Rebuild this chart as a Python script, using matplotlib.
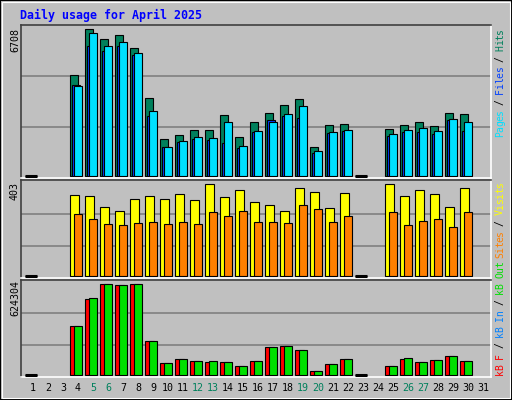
import matplotlib
matplotlib.use("Agg")
import matplotlib.pyplot as plt
import numpy as np
from matplotlib.patches import Rectangle

nan = np.nan
days = list(range(1, 32))
hits = [0, nan, nan, 4604, 6708, 6251, 6434, 5839, 3552, 1677, 1860, 2088, 2088, 2775, 1768, 2455,
        2866, 3232, 3506, 1311, 2317, 2363, 0, nan, 2134, 2317, 2455, 2271, 2866, 2820, nan]
files = [0, nan, nan, 4145, 5930, 5702, 5930, 5519, 2729, 1311, 1540, 1677, 1632, 1494, 1265, 1997,
         2546, 2729, 2638, 1037, 1951, 2043, 0, nan, 1814, 1997, 1997, 1906, 2546, 2043, nan]
pages = [0, nan, nan, 4100, 6525, 5930, 6113, 5610, 2957, 1311, 1585, 1768, 1723, 2455, 1357, 2043,
         2455, 2820, 3186, 1128, 1997, 2088, 0, nan, 1906, 2088, 2180, 2043, 2592, 2455, nan]
visits = [0, nan, nan, 355, 350, 302, 285, 337, 350, 337, 359, 333, 403, 346, 377, 324,
          311, 285, 385, 368, 298, 364, 0, nan, 403, 350, 377, 359, 302, 385, nan]
sites = [0, nan, nan, 272, 250, 228, 223, 232, 237, 228, 237, 228, 280, 263, 285, 237,
         237, 232, 311, 293, 237, 263, 0, nan, 280, 223, 241, 250, 215, 280, nan]
kb_f = [0, nan, nan, 336164, 521000, 624304, 617440, 624304, 233250, 82326, 109770, 96047, 89186,
        89186, 61742, 96047, 192094, 198955, 171512, 27442, 75465, 109770, 0, nan, 61742, 109770,
        89186, 102908, 130352, 96047, nan]
kb_in = [0, nan, nan, 0, 0, 0, 0, 0, 0, 0, 0, 0, 0, 0, 0, 0, 0, 0, 0, 0, 0, 0, 0, nan,
         0, 0, 0, 0, 0, 0, nan]
kb_out = [0, nan, nan, 336164, 528200, 624304, 617440, 624304, 233250, 82326, 109770, 96047, 96047,
          89186, 61742, 96047, 192094, 198955, 171512, 27442, 75465, 109770, 0, nan, 61742, 116631,
          89186, 102908, 130352, 96047, nan]
weekend = [5, 6, 12, 13, 19, 20, 26, 27]
max_labels = ["6708", "403", "624304"]
maxv = [6708, 403, 624304]

W, H = 512, 400
fig = plt.figure(figsize=(W/100, H/100), dpi=100)
fig.patch.set_facecolor("#C0C0C0")
fig.patches.append(Rectangle((0, 0), 1, 1, transform=fig.transFigure, fill=False,
                             edgecolor="black", lw=1.5))
fig.patches.append(Rectangle((2/W, 2/H), 1-4/W, 1-4/H, transform=fig.transFigure, fill=False,
                             edgecolor="white", lw=0.8))

mono = "DejaVu Sans Mono"
GREEN = "#00805C"; BLUE = "#0040FF"; CYAN = "#00E0FF"
YEL = "#FFFF00"; ORA = "#FF8000"; RED = "#FF0000"; LGR = "#00E000"; KBIN = "#0080FF"

x0, x1 = 21, 491
panels = [(25, 178, 176, 29), (180, 278, 276.3, 184.3), (280, 377, 375.3, 284.3)]
px = 1/15.0
axes = []
for i, (T, B, Z, M) in enumerate(panels):
    ax = fig.add_axes([x0/W, 1-B/H, (x1-x0)/W, (B-T)/H])
    ax.set_facecolor("#C0C0C0")
    mv = maxv[i]
    scale = mv/(Z-M)
    ax.set_ylim(-(B-Z)*scale, (Z-T)*scale)
    ax.set_xlim(0, (x1-x0)/15)
    for f in (0.33, 0.68):
        ax.axhline(f*mv, color="#808080", lw=1.2, zorder=0)
    ax.set_yticks([]); ax.set_xticks([])
    for s in ("top", "left"):
        ax.spines[s].set_color("#404040")
    for s in ("bottom", "right"):
        ax.spines[s].set_color("white")
    for s in ax.spines.values():
        s.set_linewidth(1.2)
    axes.append(ax)

d = np.array(days)
base = d - 1 + 4*px
kw = dict(align="edge", edgecolor="black", linewidth=0.8)
axes[0].bar(base, hits, width=7.5*px, color=GREEN, **kw)
axes[0].bar(base+2*px, files, width=8*px, color=BLUE, **kw)
axes[0].bar(base+4*px, pages, width=8*px, color=CYAN, **kw)
axes[1].bar(base, visits, width=8.5*px, color=YEL, **kw)
axes[1].bar(base+4*px, sites, width=8*px, color=ORA, **kw)
axes[2].bar(base, kb_f, width=8.5*px, color=RED, **kw)
axes[2].bar(base+2*px, kb_in, width=8*px, color=KBIN, **kw)
axes[2].bar(base+4*px, kb_out, width=8*px, color=LGR, **kw)

# zero-value days drawn as thick black dashes
for ax, series in zip(axes, [hits, visits, kb_out]):
    arr = np.array(series, dtype=float)
    zd = base[arr == 0]
    if len(zd):
        ax.hlines(np.zeros(len(zd)), zd, zd + 12*px, color="black", lw=2.2, zorder=5)

# day labels
for dd in days:
    xpix = 25 + (dd-1)*15 + 8
    fig.text(xpix/W, 1-388/H, str(dd), ha="center", va="center", family=mono, fontsize=7.2,
             color=GREEN if dd in weekend else "black")

# title
fig.text(20/W, 1-15/H, "Daily usage for April 2025", ha="left", va="center", family=mono,
         fontweight="bold", fontsize=8.4, color="#0000FF")

# left max labels
for lab, ytop in zip(max_labels, [28, 182, 280]):
    fig.text(15/W, 1-ytop/H, lab, rotation=90, ha="center", va="top", family=mono,
             fontsize=7.2, color="black")

# right multicolored labels
def vlabel(parts, ybottom):
    y = ybottom
    step = 5.4
    for txt, col in parts:
        for ch in txt:
            fig.text(500/W, 1-(y - step/2)/H, ch, rotation=90, ha="center", va="center",
                     family=mono, fontsize=7.0, color=col)
            y -= step

vlabel([("Pages", CYAN), (" / ", "black"), ("Files", BLUE), (" / ", "black"), ("Hits", GREEN)], 137)
vlabel([("Sites", ORA), (" / ", "black"), ("Visits", YEL)], 258)
vlabel([("kB F", RED), (" / ", "black"), ("kB In", KBIN), (" / ", "black"), ("kB Out", LGR)], 375)

fig.savefig("out.png", dpi=100, facecolor=fig.get_facecolor())
